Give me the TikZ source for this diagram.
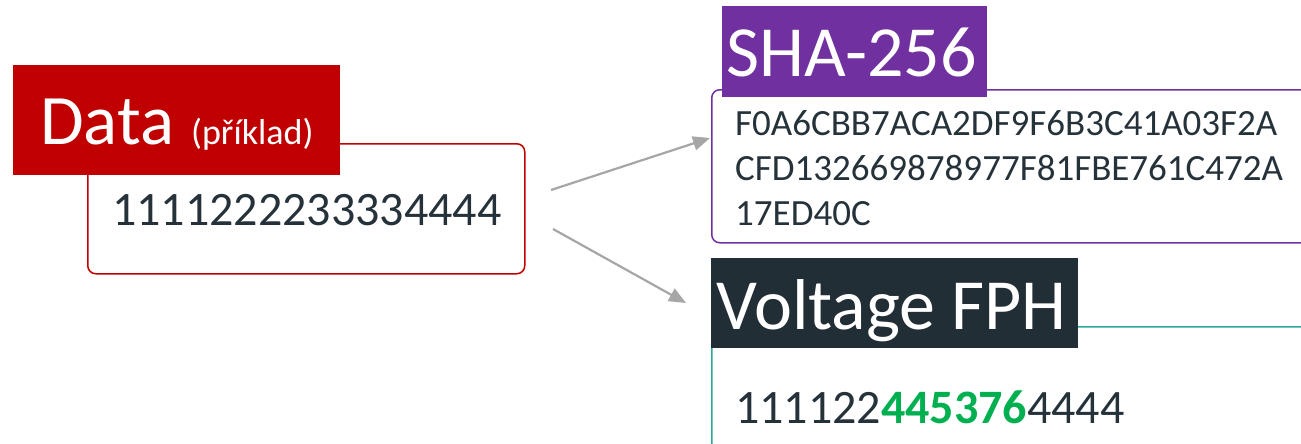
\documentclass[tikz,border=0pt]{standalone}
\usepackage{fontspec}
\setmainfont{Carlito}
\usetikzlibrary{arrows.meta}
\definecolor{datared}{HTML}{C00000}
\definecolor{shapurple}{HTML}{7030A0}
\definecolor{fphdark}{HTML}{222E36}
\definecolor{fphteal}{HTML}{2AA89A}
\definecolor{flowgray}{HTML}{A6A6A6}
\definecolor{textdark}{HTML}{26323A}
\definecolor{hitgreen}{HTML}{00B050}
\tikzset{
  titlebox/.style={anchor=north west, inner sep=0pt, text=white},
  valuebox/.style={anchor=north west, draw, line width=1.5pt, rounded corners=8pt, inner sep=0pt},
  valuetext/.style={anchor=base west, inner sep=0pt, text=textdark},
  flow/.style={draw=flowgray, line width=2.2pt, -{Triangle[length=17pt,width=14pt]}}
}
\begin{document}
\begin{tikzpicture}[x=1pt,y=-1pt]
\clip (0,0) rectangle (1301,444);

% Data
\node (datavalue) [valuebox, draw=datared, minimum width=437pt, minimum height=130pt] at (87,143) {};
\node (datatitle) [titlebox, fill=datared, text height=79pt, text depth=31pt] at (13,65)
  {\makebox[327pt][l]{\hspace*{27pt}{\fontsize{71}{71}\selectfont Data}\hspace{17pt}{\fontsize{36}{36}\selectfont (příklad)}}};
\node (datanum) [valuetext, font=\fontsize{48}{48}\selectfont] at (112,225) {1111222233334444};

% SHA-256
\node (hashvalue) [valuebox, draw=shapurple, minimum width=700pt, minimum height=153pt] at (711,89) {};
\node (hashtitle) [titlebox, fill=shapurple, text height=70pt, text depth=21pt] at (722,6)
  {\makebox[265pt][l]{\hspace*{4pt}\fontsize{72}{72}\selectfont SHA-256}};
\node (hashline1) [valuetext, font=\fontsize{37}{37}\selectfont] at (735,135) {F0A6CBB7ACA2DF9F6B3C41A03F2A};
\node (hashline2) [valuetext, font=\fontsize{37}{37}\selectfont] at (735,180) {CFD132669878977F81FBE761C472A};
\node (hashline3) [valuetext, font=\fontsize{37}{37}\selectfont] at (735,225) {17ED40C};

% Voltage FPH
\node (fphvalue) [valuebox, draw=fphteal, minimum width=700pt, minimum height=200pt] at (711,326) {};
\node (fphtitle) [titlebox, fill=fphdark, text height=71pt, text depth=19pt] at (711,258)
  {\makebox[367pt][l]{\hspace*{5pt}\fontsize{72}{72}\selectfont Voltage FPH}};
\node (fphnum) [valuetext, font=\fontsize{48}{48}\selectfont] at (735,423)
  {111122\textcolor{hitgreen}{\bfseries 445376}4444};

% Arrows
\coordinate (hashfrom) at (551,190);
\coordinate (hashto) at (710,138);
\coordinate (fphfrom) at (553,229);
\coordinate (fphto) at (686,303);
\draw[flow] (hashfrom) -- (hashto);
\draw[flow] (fphfrom) -- (fphto);

\end{tikzpicture}
\end{document}
